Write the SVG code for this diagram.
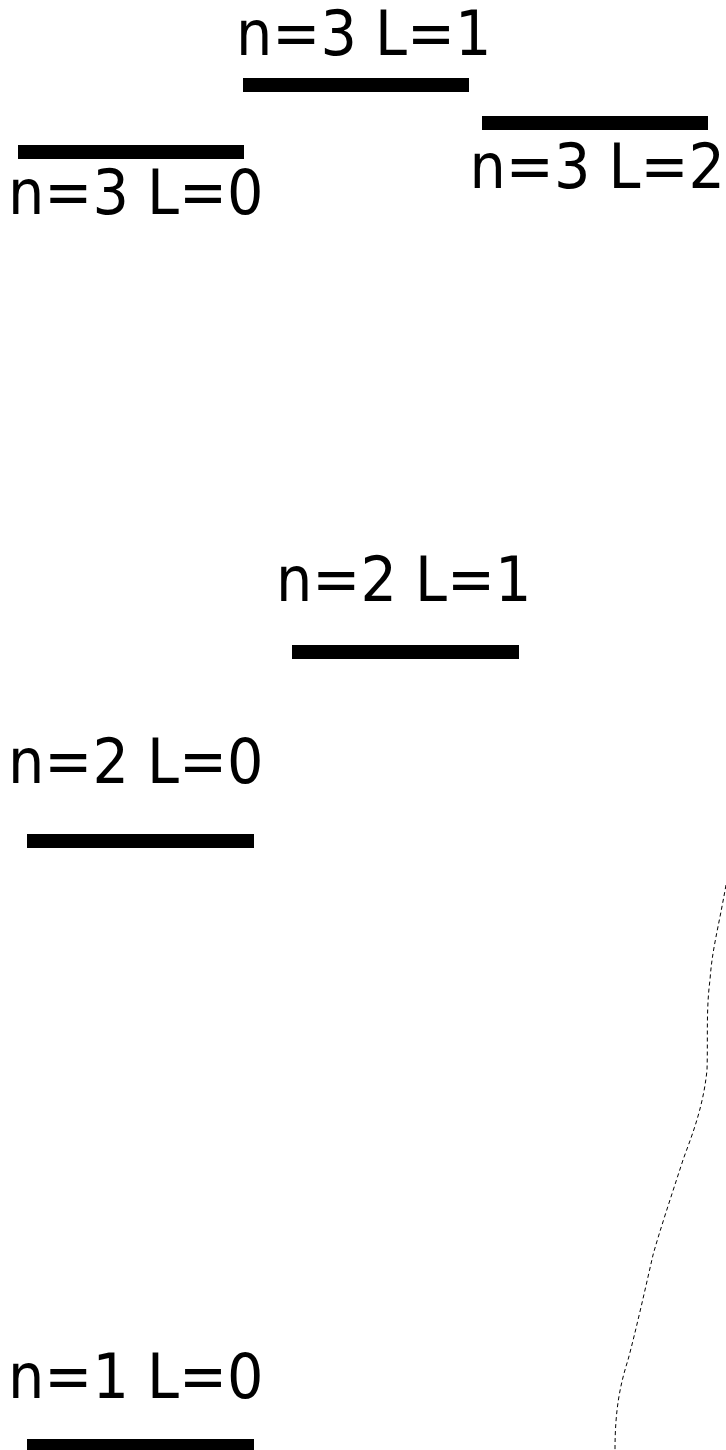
<svg xmlns="http://www.w3.org/2000/svg" width="726" height="1450" viewBox="0 0 726 1450">
<style>
.lbl{font-family:"DejaVu Sans",sans-serif;font-size:62px;fill:#000}
.bar{fill:#000}
.conn{fill:none;stroke:#000;stroke-width:1;stroke-dasharray:4,3}
</style>
<rect width="726" height="1450" fill="#fff"/>
<g id="n3L1"><rect class="bar" x="243" y="78" width="226" height="14"/><text class="lbl" transform="translate(236,54.5) scale(0.925,1)">n=3 L=1</text></g>
<g id="n3L0"><rect class="bar" x="18" y="145" width="226" height="14"/><text class="lbl" transform="translate(8,213.5) scale(0.925,1)">n=3 L=0</text></g>
<g id="n3L2"><rect class="bar" x="482" y="116" width="226" height="14"/><text class="lbl" transform="translate(469.5,188) scale(0.925,1)">n=3 L=2</text></g>
<g id="n2L1"><rect class="bar" x="292" y="645" width="227" height="14"/><text class="lbl" transform="translate(276,601) scale(0.925,1)">n=2 L=1</text></g>
<g id="n2L0"><rect class="bar" x="27" y="834" width="227" height="14"/><text class="lbl" transform="translate(8,783) scale(0.925,1)">n=2 L=0</text></g>
<g id="n1L0"><rect class="bar" x="27" y="1439" width="227" height="14"/><text class="lbl" transform="translate(8,1398) scale(0.925,1)">n=1 L=0</text></g>
<g id="connectors"><path class="conn" d="M726,885 C718,930 712,950 710,980 C706,1010 708,1040 707,1070 C703,1110 690,1140 683,1160 C670,1200 660,1230 653,1255 C645,1290 636,1330 628,1360 C620,1385 615,1410 615,1450"/></g>
</svg>
